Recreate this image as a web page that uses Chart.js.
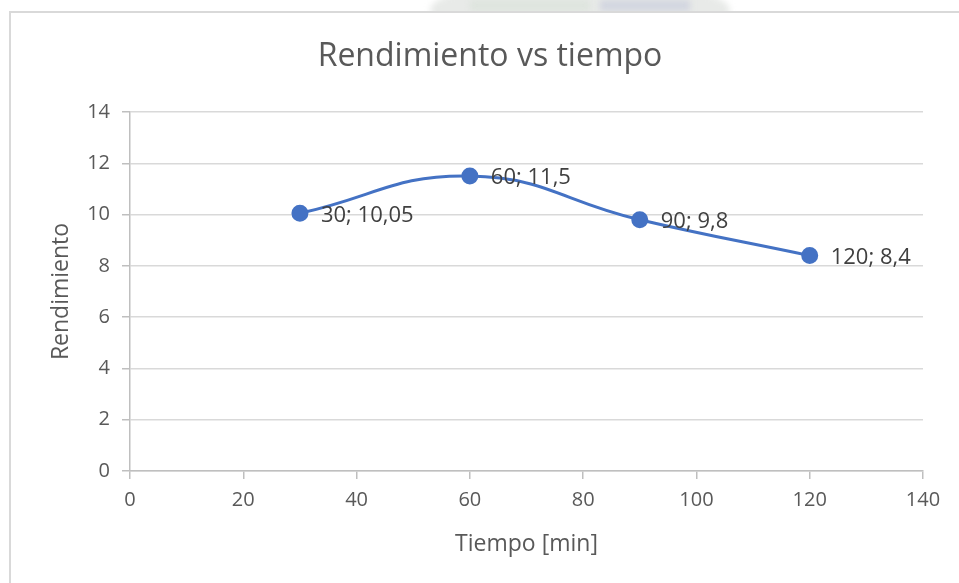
<!DOCTYPE html>
<html>
<head>
<meta charset="utf-8">
<script src="https://cdn.jsdelivr.net/npm/chart.js@4.4.1/dist/chart.umd.min.js"></script>
<style>
  html, body { margin: 0; padding: 0; background: #ffffff; }
  #wrap { width: 959px; height: 583px; position: relative; }
</style>
</head>
<body>
<div id="wrap"><canvas id="c" width="959" height="583"></canvas></div>
<script>
// Series: yield (Rendimiento) against time in minutes
const tiempo = [30, 60, 90, 120];
const rendimiento = [10.05, 11.5, 9.8, 8.4];
const etiquetas = ['30; 10,05', '60; 11,5', '90; 9,8', '120; 8,4'];

const titulo = 'Rendimiento vs tiempo';
const tituloX = 'Tiempo [min]';
const tituloY = 'Rendimiento';

const FONT = '"Open Sans", Lato, sans-serif';
const AZUL = '#4472C4';

// Light frame, faint header band and chart title
const marco = {
  id: 'marco',
  beforeDraw(chart) {
    const ctx = chart.ctx;
    ctx.save();
    ctx.fillStyle = '#ffffff';
    ctx.fillRect(0, 0, chart.width, chart.height);
    // faded emblem peeking above the frame
    ctx.beginPath();
    ctx.rect(0, 0, chart.width, 11);
    ctx.clip();
    ctx.filter = 'blur(3px)';
    ctx.fillStyle = 'rgba(205,208,205,0.45)';
    ctx.beginPath();
    ctx.ellipse(580, 10, 150, 30, 0, 0, Math.PI * 2);
    ctx.fill();
    ctx.fillStyle = 'rgba(215,225,215,0.6)';
    ctx.fillRect(470, 0, 120, 11);
    ctx.fillStyle = 'rgba(195,200,218,0.6)';
    ctx.fillRect(600, 0, 90, 11);
    ctx.restore();

    ctx.save();
    ctx.strokeStyle = '#d9d9d9';
    ctx.lineWidth = 2;
    ctx.beginPath();
    ctx.moveTo(10, chart.height + 2);
    ctx.lineTo(10, 12);
    ctx.lineTo(chart.width + 2, 12);
    ctx.stroke();
    ctx.restore();
  },
  afterDraw(chart) {
    const ctx = chart.ctx;
    ctx.save();
    ctx.fillStyle = '#595959';
    ctx.font = '32px ' + FONT;
    ctx.textAlign = 'center';
    ctx.textBaseline = 'middle';
    ctx.fillText(titulo, 490, 57);
    ctx.restore();
  }
};

// Value labels to the right of each point
const etiquetasPuntos = {
  id: 'etiquetasPuntos',
  afterDatasetsDraw(chart) {
    const ctx = chart.ctx;
    const meta = chart.getDatasetMeta(0);
    ctx.save();
    ctx.fillStyle = '#404040';
    ctx.font = '22px ' + FONT;
    ctx.textAlign = 'left';
    ctx.textBaseline = 'middle';
    meta.data.forEach((pt, i) => {
      ctx.fillText(etiquetas[i], pt.x + 21, pt.y + 2);
    });
    ctx.restore();
  }
};

new Chart(document.getElementById('c'), {
  type: 'line',
  data: {
    datasets: [{
      data: tiempo.map((t, i) => ({ x: t, y: rendimiento[i] })),
      borderColor: AZUL,
      backgroundColor: AZUL,
      borderWidth: 3,
      tension: 0.45,
      pointRadius: 7,
      pointHoverRadius: 7,
      pointBackgroundColor: AZUL,
      pointBorderColor: AZUL,
      fill: false
    }]
  },
  options: {
    responsive: false,
    animation: false,
    events: [],
    layout: { padding: { top: 112, right: 36, left: 0, bottom: 0 } },
    plugins: { legend: { display: false }, tooltip: { enabled: false }, title: { display: false } },
    scales: {
      x: {
        type: 'linear',
        min: 0, max: 140,
        ticks: { stepSize: 20, color: '#595959', font: { family: FONT, size: 20 }, padding: 9 },
        grid: { drawOnChartArea: false, drawTicks: true, tickLength: 8, color: '#bfbfbf', lineWidth: 1.5 },
        border: { display: true, color: '#bfbfbf', width: 1.5 },
        title: { display: true, text: tituloX, color: '#595959', font: { family: FONT, size: 23 }, padding: { top: 8, bottom: 25 } },
        afterFit(scale) { scale.height = 583 - 471; }
      },
      y: {
        min: 0, max: 14,
        ticks: { stepSize: 2, color: '#595959', font: { family: FONT, size: 20 }, padding: 12 },
        grid: { color: '#d9d9d9', lineWidth: 1.5, tickLength: 8, tickColor: '#bfbfbf' },
        border: { display: true, color: '#bfbfbf', width: 1.5 },
        title: { display: true, text: tituloY, color: '#595959', font: { family: FONT, size: 23 }, padding: { top: 48, bottom: 0 } },
        afterFit(scale) { scale.width = 130; }
      }
    }
  },
  plugins: [marco, etiquetasPuntos]
});
</script>
</body>
</html>
